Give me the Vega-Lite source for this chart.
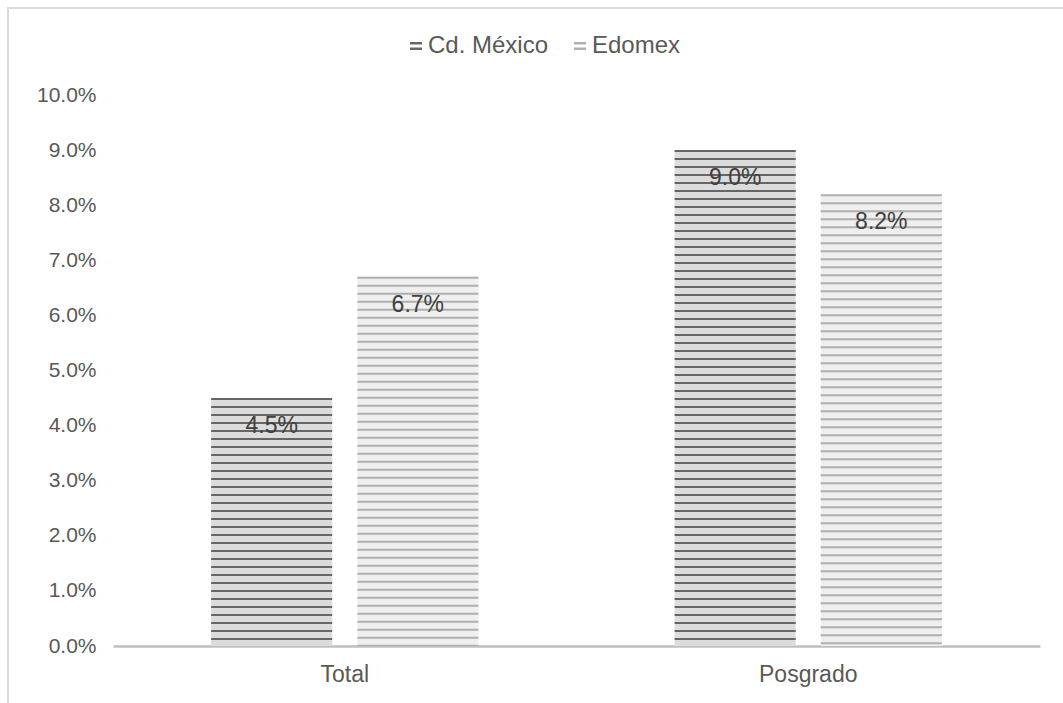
{
  "$schema": "https://vega.github.io/schema/vega-lite/v6.json",
  "width": 1058,
  "height": 698,
  "autosize": "none",
  "padding": {"left": 8, "top": 8, "right": -3, "bottom": -3},
  "background": "white",
  "config": {
    "view": {"stroke": "#d9d9d9", "strokeWidth": 2},
    "font": "Liberation Sans",
    "axis": {"labelFont": "Liberation Sans", "labelColor": "#595959", "labelFontSize": 21, "title": null, "grid": false, "ticks": false},
    "legend": {"labelFont": "Liberation Sans", "labelColor": "#595959", "labelFontSize": 24}
  },
  "data": {
    "values": [
      {"grupo": "Total", "entidad": "Cd. México", "valor": 0.045},
      {"grupo": "Total", "entidad": "Edomex", "valor": 0.067},
      {"grupo": "Posgrado", "entidad": "Cd. México", "valor": 0.090},
      {"grupo": "Posgrado", "entidad": "Edomex", "valor": 0.082}
    ]
  },
  "encoding": {
    "x": {
      "field": "grupo", "type": "nominal", "sort": ["Total", "Posgrado"],
      "scale": {"range": [105, 1032], "paddingInner": 0, "paddingOuter": 0},
      "axis": {"orient": "bottom", "offset": -60, "labelAngle": 0, "labelPadding": 17, "labelFontSize": 23, "domainColor": "#bfbfbf", "domainWidth": 2.5}
    },
    "xOffset": {
      "field": "entidad", "type": "nominal",
      "scale": {"paddingInner": 0.171, "paddingOuter": 0.671}
    },
    "y": {
      "field": "valor", "type": "quantitative",
      "scale": {"domain": [0, 0.1], "range": [638, 87], "nice": false, "zero": true},
      "axis": {"orient": "left", "offset": -105, "labelPadding": 17, "domain": false, "format": ".1%", "values": [0, 0.01, 0.02, 0.03, 0.04, 0.05, 0.06, 0.07, 0.08, 0.09, 0.1]}
    }
  },
  "layer": [
    {
      "mark": {"type": "bar"},
      "encoding": {
        "fill": {"condition": {"test": "datum.entidad === 'Edomex'", "value": "#efefef"}, "value": "#dcdcdc"}
      }
    },
    {
      "mark": {"type": "rule", "strokeWidth": 121, "strokeDash": [2, 6], "strokeCap": "butt"},
      "encoding": {
        "y2": {"datum": 0},
        "stroke": {
          "field": "entidad", "type": "nominal",
          "scale": {"domain": ["Cd. México", "Edomex"], "range": ["#666666", "#b0b0b0"]},
          "legend": {
            "title": null, "orient": "none", "direction": "horizontal",
            "legendX": 396, "legendY": 26,
            "symbolType": "M-1,-0.45H1M-1,0.45H1",
            "symbolSize": 144, "symbolStrokeWidth": 2.5,
            "labelOffset": 0, "columnPadding": 19
          }
        }
      }
    },
    {
      "mark": {"type": "text", "baseline": "middle", "dy": 28, "fontSize": 23, "color": "#404040", "font": "Liberation Sans"},
      "encoding": {
        "text": {"field": "valor", "type": "quantitative", "format": ".1%"}
      }
    }
  ]
}
